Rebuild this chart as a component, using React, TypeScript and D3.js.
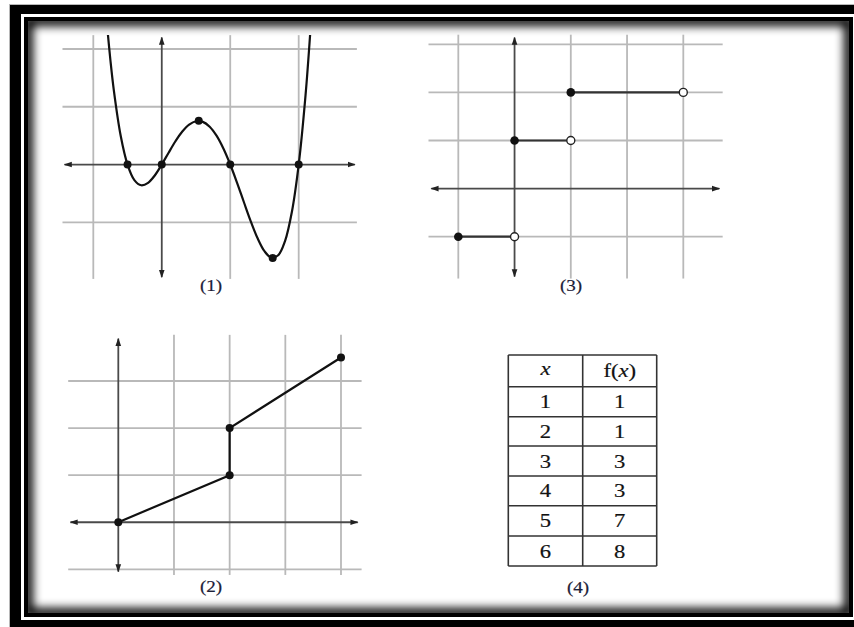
import React from "react";
import * as d3 from "d3";

// ---- Graph (1): smooth curve through sampled points ----
const curveXs = [-0.8, -0.75, -0.7, -0.6, -0.5, -0.4, -0.3, -0.2, -0.1, 0, 0.1, 0.2, 0.3, 0.4, 0.5, 0.6, 0.7, 0.8, 0.9, 1.0, 1.1, 1.2, 1.3, 1.4, 1.5, 1.6, 1.7, 1.8, 1.9, 2.0, 2.1, 2.17];
const curveYs = [2.42, 1.805, 1.285, 0.499, 0, -0.269, -0.359, -0.317, -0.185, 0, 0.205, 0.403, 0.571, 0.691, 0.75, 0.739, 0.655, 0.499, 0.277, 0, -0.317, -0.653, -0.983, -1.277, -1.5, -1.613, -1.571, -1.325, -0.821, 0, 1.201, 2.305];
const dots1X = [-0.5, 0, 1, 2, 0.54, 1.62];
const dots1Y = [0, 0, 0, 0, 0.76, -1.62];

// ---- Graph (2): piecewise linear ----
const line2X = [0, 2, 2, 4];
const line2Y = [0, 1, 2, 3.5];

// ---- Graph (3): step function ----
const stepStart = [-1, 0, 1];
const stepEnd = [0, 1, 3];
const stepValue = [-1, 1, 2];

// ---- Table (4) ----
const tableX = ["1", "2", "3", "4", "5", "6"];
const tableF = ["1", "1", "3", "3", "7", "8"];

const captions = ["(1)", "(2)", "(3)", "(4)"];

const GRID = "#b9b9b9";
const AXIS = "#4a4a4a";
const INK = "#111";
const SERIF = "Liberation Serif, DejaVu Serif, serif";
const STRETCH = 1.19; // the sheet is set wider than tall

type Panel = {
  x: d3.ScaleLinear<number, number>;
  y: d3.ScaleLinear<number, number>;
  xTicks: number[];
  yTicks: number[];
  hx: [number, number]; // horizontal grid extent (x units)
  vy: [number, number]; // vertical grid extent (y units)
  ax: [number, number]; // x-axis extent
  ay: [number, number]; // y-axis extent
};

function Grid({ p }: { p: Panel }) {
  return (
    <g>
      {p.yTicks.filter((t) => t !== 0).map((t) => (
        <line key={"h" + t} x1={p.x(p.hx[0])} x2={p.x(p.hx[1])} y1={p.y(t)} y2={p.y(t)} stroke={GRID} strokeWidth={1.8} />
      ))}
      {p.xTicks.filter((t) => t !== 0).map((t) => (
        <line key={"v" + t} x1={p.x(t)} x2={p.x(t)} y1={p.y(p.vy[0])} y2={p.y(p.vy[1])} stroke={GRID} strokeWidth={1.8} />
      ))}
      <line x1={p.x(p.ax[0])} x2={p.x(p.ax[1])} y1={p.y(0)} y2={p.y(0)} stroke={AXIS} strokeWidth={1.8}
        markerStart={`url(#arrS)`} markerEnd={`url(#arrE)`} />
      <line x1={p.x(0)} x2={p.x(0)} y1={p.y(p.ay[0])} y2={p.y(p.ay[1])} stroke={AXIS} strokeWidth={1.8}
        markerStart={`url(#arrS)`} markerEnd={`url(#arrE)`} />
    </g>
  );
}

function Label({ x, y, children, italic }: { x: number; y: number; children: React.ReactNode; italic?: boolean }) {
  return (
    <text transform={`translate(${x},${y}) scale(${STRETCH},1)`} fontStyle={italic ? "italic" : undefined}>
      {children}
    </text>
  );
}

export default function App() {
  // Panel 1
  const p1: Panel = {
    x: d3.scaleLinear().domain([-1, 2]).range([93.3, 298.7]),
    y: d3.scaleLinear().domain([-1, 2]).range([222.3, 49]),
    xTicks: [-1, 0, 1, 2],
    yTicks: [-1, 0, 1, 2],
    hx: [-1.45, 2.85],
    vy: [-1.98, 2.24],
    ax: [-1.42, 2.82],
    ay: [-1.95, 2.2],
  };
  // Panel 3
  const p3: Panel = {
    x: d3.scaleLinear().domain([-1, 3]).range([458.3, 683.3]),
    y: d3.scaleLinear().domain([-1, 3]).range([236.7, 44.3]),
    xTicks: [-1, 0, 1, 2, 3],
    yTicks: [-1, 0, 1, 2, 3],
    hx: [-1.53, 3.7],
    vy: [-1.87, 3.2],
    ax: [-1.48, 3.64],
    ay: [-1.83, 3.14],
  };
  // Panel 2
  const p2: Panel = {
    x: d3.scaleLinear().domain([0, 4]).range([118.3, 341]),
    y: d3.scaleLinear().domain([-1, 3]).range([569.3, 381]),
    xTicks: [0, 1, 2, 3, 4],
    yTicks: [-1, 0, 1, 2, 3],
    hx: [-0.9, 4.37],
    vy: [-1.12, 3.98],
    ax: [-0.86, 4.3],
    ay: [-1.05, 3.9],
  };

  const curve = d3
    .line<number>()
    .x((_, i) => p1.x(curveXs[i]))
    .y((d) => p1.y(d))
    .curve(d3.curveCatmullRom.alpha(0.5));

  const line2 = d3
    .line<number>()
    .x((_, i) => p2.x(line2X[i]))
    .y((d) => p2.y(d));

  // table geometry
  const colX = [508.3, 582.7, 656.7];
  const rowY = [355, 386.7, 416.7, 446, 476, 505.7, 536, 566];
  const c1 = (colX[0] + colX[1]) / 2;
  const c2 = (colX[1] + colX[2]) / 2;

  return (
    <svg width={854} height={627} style={{ position: "absolute", left: 0, top: 0, fontFamily: SERIF }}>
      <defs>
        <marker id="arrE" viewBox="0 0 10 10" refX={9} refY={5} markerWidth={4.5} markerHeight={4.5} orient="auto" markerUnits="strokeWidth">
          <path d="M0,1.5 L10,5 L0,8.5 Z" fill="#222" />
        </marker>
        <marker id="arrS" viewBox="0 0 10 10" refX={1} refY={5} markerWidth={4.5} markerHeight={4.5} orient="auto" markerUnits="strokeWidth">
          <path d="M10,1.5 L0,5 L10,8.5 Z" fill="#222" />
        </marker>
        <clipPath id="inner">
          <rect x={28} y={21} width={821} height={592} />
        </clipPath>
        <clipPath id="plot1">
          <rect x={60} y={35} width={300} height={245} />
        </clipPath>
        <filter id="soft" x="-10%" y="-10%" width="120%" height="120%">
          <feGaussianBlur stdDeviation={5} />
        </filter>
      </defs>

      {/* frame */}
      <rect x={0} y={0} width={854} height={627} fill="#fff" />
      <rect x={9} y={4} width={845} height={623} fill="#b8b8b8" />
      <rect x={10} y={5} width={844} height={622} fill="#000" />
      <rect x={21} y={14} width={833} height={606} fill="#fff" />
      <rect x={24} y={17} width={829} height={600} fill="#000" />
      <rect x={28} y={21} width={821} height={592} fill="#fff" />
      <g clipPath="url(#inner)">
        <rect x={28} y={21} width={821} height={592} fill="none" stroke="#000" strokeWidth={10} filter="url(#soft)" />
      </g>

      {/* (1) */}
      <Grid p={p1} />
      <path d={curve(curveYs) || ""} fill="none" stroke={INK} strokeWidth={2.2} clipPath="url(#plot1)" />
      {dots1X.map((d, i) => (
        <circle key={i} cx={p1.x(d)} cy={p1.y(dots1Y[i])} r={4} fill={INK} />
      ))}

      {/* (3) */}
      <Grid p={p3} />
      {stepStart.map((s, i) => (
        <g key={i}>
          <line x1={p3.x(s)} x2={p3.x(stepEnd[i])} y1={p3.y(stepValue[i])} y2={p3.y(stepValue[i])} stroke="#333" strokeWidth={2.2} />
          <circle cx={p3.x(s)} cy={p3.y(stepValue[i])} r={4.3} fill={INK} />
          <circle cx={p3.x(stepEnd[i])} cy={p3.y(stepValue[i])} r={4} fill="#fff" stroke="#222" strokeWidth={1.4} />
        </g>
      ))}

      {/* (2) */}
      <Grid p={p2} />
      <path d={line2(line2Y) || ""} fill="none" stroke={INK} strokeWidth={2.2} />
      {line2X.map((d, i) => (
        <circle key={i} cx={p2.x(d)} cy={p2.y(line2Y[i])} r={4} fill={INK} />
      ))}

      {/* (4) table */}
      <g stroke="#333" strokeWidth={1.6}>
        {rowY.map((y, i) => (
          <line key={"r" + i} x1={colX[0]} x2={colX[2]} y1={y} y2={y} />
        ))}
        {colX.map((x, i) => (
          <line key={"c" + i} x1={x} x2={x} y1={rowY[0]} y2={rowY[rowY.length - 1]} />
        ))}
      </g>
      <g fontSize={19} fill="#111" stroke="#111" strokeWidth={0.2} textAnchor="middle">
        <Label x={c1} y={(rowY[0] + rowY[1]) / 2 + 4.5} italic>x</Label>
        <Label x={c2} y={(rowY[0] + rowY[1]) / 2 + 6}>
          f(<tspan fontStyle="italic">x</tspan>)
        </Label>
        {tableX.map((v, i) => (
          <g key={i}>
            <Label x={c1} y={(rowY[i + 1] + rowY[i + 2]) / 2 + 6.5}>{v}</Label>
            <Label x={c2} y={(rowY[i + 1] + rowY[i + 2]) / 2 + 6.5}>{tableF[i]}</Label>
          </g>
        ))}
      </g>

      {/* captions */}
      <g fontSize={16} fill="#1c2038" stroke="#1c2038" strokeWidth={0.2} textAnchor="middle">
        <Label x={211} y={291}>{captions[0]}</Label>
        <Label x={211} y={592}>{captions[1]}</Label>
        <Label x={571} y={291}>{captions[2]}</Label>
        <Label x={578} y={593}>{captions[3]}</Label>
      </g>
    </svg>
  );
}
